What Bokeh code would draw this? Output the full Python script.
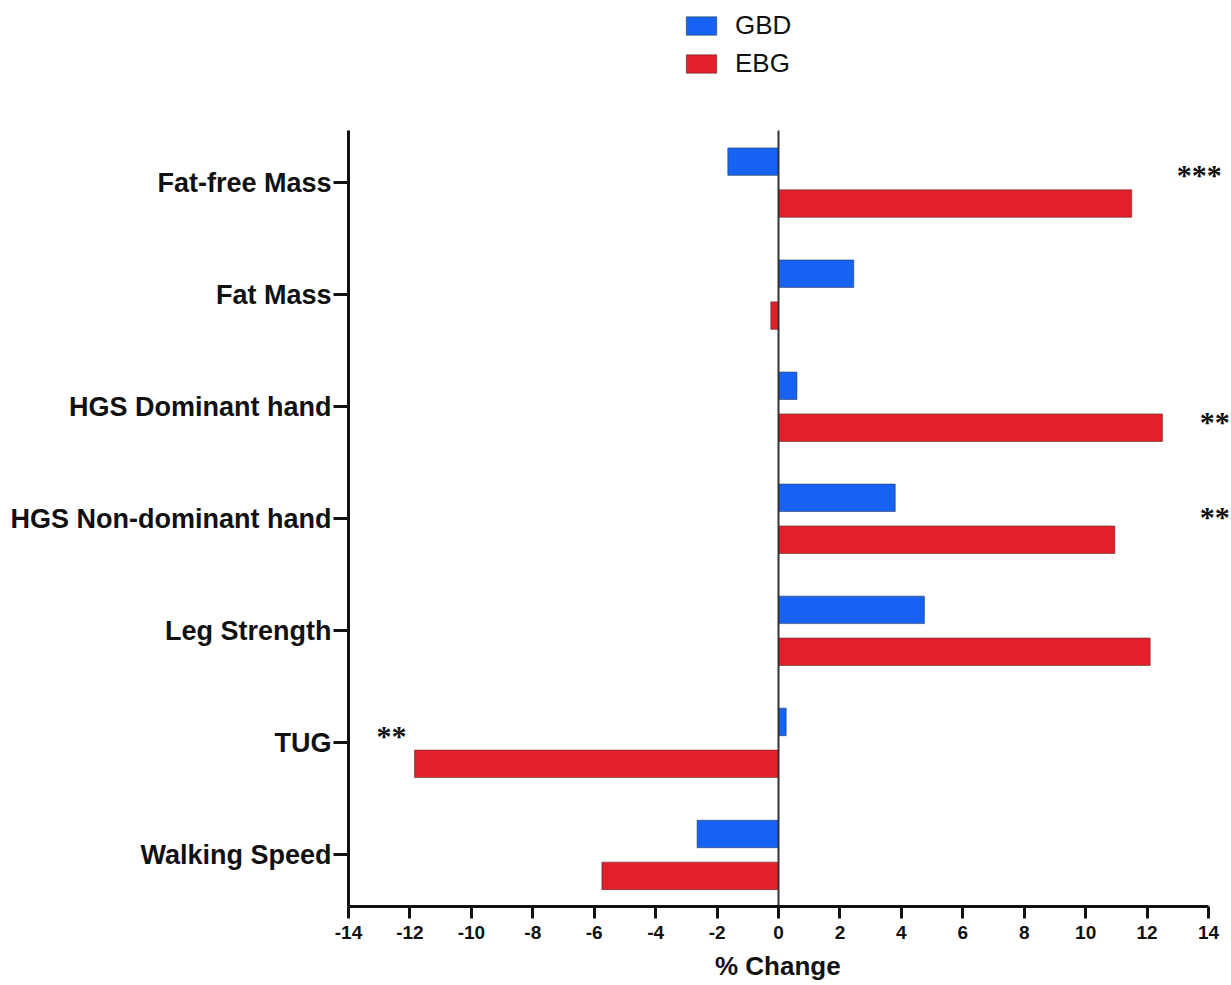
from bokeh.plotting import figure
from bokeh.models import Range1d, FixedTicker, ColumnDataSource, Legend, LegendItem, LabelSet
from bokeh.embed import file_html
from bokeh.resources import INLINE

categories = ["Fat-free Mass", "Fat Mass", "HGS Dominant hand", "HGS Non-dominant hand",
              "Leg Strength", "TUG", "Walking Speed"]
gbd = [-1.65, 2.45, 0.6, 3.8, 4.75, 0.25, -2.65]
ebg = [11.5, -0.25, 12.5, 10.95, 12.1, -11.85, -5.75]
x_ticks = list(range(-14, 15, 2))

sig_labels = ["***", "**", "**", "**"]
sig_category = ["Fat-free Mass", "HGS Dominant hand", "HGS Non-dominant hand", "TUG"]
sig_x = [13.7, 14.2, 14.2, -12.6]
sig_dy = [0.075, -0.135, 0.02, 0.07]

BLUE = "#1662F2"
RED = "#E3202A"
FONT = "Liberation Sans"

n = len(categories)
ypos = [n - 1 - i for i in range(n)]
off = 0.187
bar_h = 0.245

# axis extents (data) and extra room for legend / stars inside the frame
x_lo, x_hi = -14, 14
y_lo, y_hi = -0.46, n - 1 + 0.465

src = ColumnDataSource(dict(
    y_gbd=[y + off for y in ypos], y_ebg=[y - off for y in ypos],
    gbd=gbd, ebg=ebg))

p = figure(width=1230, height=984, output_backend="svg", toolbar_location=None,
           x_range=Range1d(x_lo, 14.716), y_range=Range1d(y_lo, 7.625),
           min_border_left=348, min_border_right=0, min_border_top=0, min_border_bottom=78)

r1 = p.hbar(y="y_gbd", right="gbd", left=0, height=bar_h, source=src,
            fill_color=BLUE, line_color="#2a3a5a", line_alpha=0.6, line_width=1)
r2 = p.hbar(y="y_ebg", right="ebg", left=0, height=bar_h, source=src,
            fill_color=RED, line_color="#5a2a2a", line_alpha=0.6, line_width=1)

# zero reference line spanning the y-axis extent
p.segment(x0=[0], y0=[y_lo], x1=[0], y1=[y_hi], line_color="#333333", line_width=2)

star_src = ColumnDataSource(dict(
    x=sig_x,
    y=[ypos[categories.index(c)] + d for c, d in zip(sig_category, sig_dy)],
    t=sig_labels))
p.add_layout(LabelSet(x="x", y="y", text="t", source=star_src, text_font=FONT,
                      text_font_size="30px", text_font_style="bold",
                      text_align="center", text_baseline="middle",
                      text_color="#111111"))

legend = Legend(items=[LegendItem(label="GBD", renderers=[r1]), LegendItem(label="EBG", renderers=[r2])],
                location=(334, 827), orientation="vertical",
                glyph_width=38, glyph_height=23, label_height=22, spacing=7,
                label_standoff=15, padding=0, margin=0,
                border_line_color=None, background_fill_alpha=0,
                label_text_font=FONT, label_text_font_size="26px", label_text_color="#111111",
                label_text_baseline="middle")
p.add_layout(legend)

p.xgrid.visible = False
p.ygrid.visible = False
p.outline_line_color = None

p.xaxis.ticker = FixedTicker(ticks=x_ticks)
p.xaxis.major_label_overrides = {t: str(t) for t in x_ticks}
p.xaxis.bounds = (x_lo, x_hi)
p.xaxis.axis_label = "% Change\u2002\u2009\u2009"
p.xaxis.axis_label_text_font = FONT
p.xaxis.axis_label_text_font_style = "bold"
p.xaxis.axis_label_text_font_size = "26px"
p.xaxis.axis_label_text_color = "#111111"
p.xaxis.axis_label_standoff = 9
p.xaxis.major_label_text_font = FONT
p.xaxis.major_label_text_font_style = "bold"
p.xaxis.major_label_text_font_size = "19px"
p.xaxis.major_label_text_color = "#111111"
p.xaxis.major_label_standoff = 7

p.yaxis.ticker = FixedTicker(ticks=ypos)
p.yaxis.bounds = (y_lo, y_hi)
p.yaxis.major_label_overrides = {y: c for y, c in zip(ypos, categories)}
p.yaxis.major_label_text_font = FONT
p.yaxis.major_label_text_font_style = "bold"
p.yaxis.major_label_text_font_size = "27px"
p.yaxis.major_label_text_color = "#111111"
p.yaxis.major_label_standoff = 2

for ax in (p.xaxis, p.yaxis):
    ax.axis_line_width = 3
    ax.axis_line_color = "#111111"
    ax.major_tick_line_width = 3
    ax.major_tick_line_color = "#111111"
    ax.major_tick_in = 0
    ax.minor_tick_line_color = None
p.xaxis.major_tick_out = 12
p.yaxis.major_tick_out = 15

open("out.html", "w").write(file_html(p, INLINE))
